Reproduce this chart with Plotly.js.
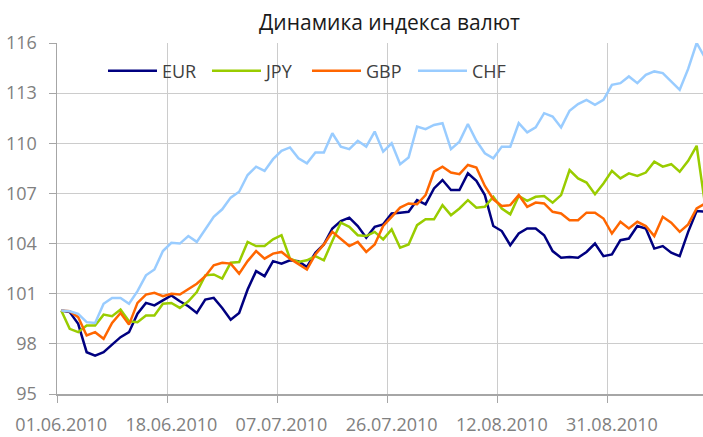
<!DOCTYPE html>
<html>
<head>
<meta charset="utf-8">
<script src="https://cdn.plot.ly/plotly-3.0.1.min.js"></script>
<style>
html, body { margin: 0; padding: 0; overflow: hidden; background: #fff; }
#chart { width: 703px; height: 437px; }
</style>
</head>
<body>
<div id="chart"></div>
<script>
var dates = [
  "01.06.2010","02.06.2010","03.06.2010","04.06.2010","07.06.2010","08.06.2010","09.06.2010","10.06.2010","11.06.2010",
  "14.06.2010","15.06.2010","16.06.2010","17.06.2010","18.06.2010","21.06.2010","22.06.2010","23.06.2010","24.06.2010",
  "25.06.2010","28.06.2010","29.06.2010","30.06.2010",
  "01.07.2010","02.07.2010","05.07.2010","06.07.2010","07.07.2010","08.07.2010","09.07.2010","12.07.2010","13.07.2010",
  "14.07.2010","15.07.2010","16.07.2010","19.07.2010","20.07.2010","21.07.2010","22.07.2010","23.07.2010","26.07.2010",
  "27.07.2010","28.07.2010","29.07.2010","30.07.2010",
  "02.08.2010","03.08.2010","04.08.2010","05.08.2010","06.08.2010","09.08.2010","10.08.2010","11.08.2010","12.08.2010",
  "13.08.2010","16.08.2010","17.08.2010","18.08.2010","19.08.2010","20.08.2010","23.08.2010","24.08.2010","25.08.2010",
  "26.08.2010","27.08.2010","30.08.2010","31.08.2010",
  "01.09.2010","02.09.2010","03.09.2010","06.09.2010","07.09.2010","08.09.2010","09.09.2010","10.09.2010","13.09.2010",
  "14.09.2010","15.09.2010"
];

var eur = [
  100.0, 99.9, 99.2, 97.5, 97.3, 97.5, 97.95, 98.4, 98.7, 99.8,
  100.45, 100.3, 100.6, 100.9, 100.55, 100.25, 99.85, 100.65, 100.75, 100.15,
  99.45, 99.85, 101.25, 102.35, 102.05, 102.95, 102.8, 103.0, 102.95, 102.6,
  103.45, 103.95, 104.9, 105.35, 105.55, 105.05, 104.35, 105.0, 105.15, 105.8,
  105.85, 105.9, 106.6, 106.35, 107.3, 107.8, 107.2, 107.2, 108.2, 107.75,
  106.9, 105.05, 104.75, 103.9, 104.6, 104.9, 104.9, 104.5, 103.55, 103.15,
  103.2, 103.15, 103.5, 104.0, 103.25, 103.35, 104.2, 104.3, 105.05, 104.9,
  103.7, 103.85, 103.45, 103.25, 104.7, 105.95, 105.9
];

var jpy = [
  100.0, 98.9, 98.7, 99.1, 99.1, 99.75, 99.65, 100.05, 99.35, 99.3,
  99.7, 99.7, 100.4, 100.45, 100.15, 100.55, 101.1, 102.1, 102.15, 101.9,
  102.85, 102.9, 104.1, 103.85, 103.85, 104.25, 104.5, 103.1, 102.9, 103.0,
  103.25, 103.0, 104.15, 105.25, 105.0, 104.5, 104.45, 104.7, 104.25, 104.85,
  103.75, 103.95, 105.1, 105.45, 105.45, 106.3, 105.7, 106.1, 106.6, 106.15,
  106.2, 106.8, 106.1, 105.75, 106.85, 106.55, 106.8, 106.85, 106.45, 106.9,
  108.4, 107.9, 107.65, 106.95, 107.6, 108.35, 107.9, 108.2, 108.05, 108.25,
  108.9, 108.6, 108.75, 108.3, 108.95, 109.85, 106.3
];

var gbp = [
  100.0, 99.95, 99.6, 98.5, 98.7, 98.3, 99.25, 99.85, 99.15, 100.45,
  100.95, 101.05, 100.85, 101.0, 100.95, 101.25, 101.6, 102.05, 102.7, 102.85,
  102.8, 102.2, 102.95, 103.55, 103.1, 103.4, 103.5, 103.1, 102.8, 102.45,
  103.35, 103.95, 104.7, 104.25, 103.85, 104.1, 103.5, 103.95, 105.05, 105.6,
  106.15, 106.4, 106.35, 106.9, 108.3, 108.6, 108.25, 108.15, 108.7, 108.55,
  107.45, 106.65, 106.25, 106.3, 106.9, 106.2, 106.45, 106.4, 105.9, 105.8,
  105.4, 105.4, 105.85, 105.85, 105.5, 104.6, 105.3, 104.9, 105.3, 105.05,
  104.45, 105.6, 105.25, 104.7, 105.15, 106.1, 106.4
];

var chf = [
  100.0, 99.95, 99.8, 99.3, 99.25, 100.4, 100.75, 100.75, 100.4, 101.15,
  102.1, 102.45, 103.55, 104.05, 104.0, 104.45, 104.1, 104.85, 105.6, 106.05,
  106.75, 107.1, 108.1, 108.6, 108.35, 109.05, 109.55, 109.75, 109.1, 108.8,
  109.45, 109.45, 110.6, 109.8, 109.65, 110.15, 109.8, 110.7, 109.5, 110.0,
  108.75, 109.15, 111.0, 110.85, 111.1, 111.2, 109.65, 110.1, 111.15, 110.15,
  109.4, 109.1, 109.8, 109.8, 111.2, 110.65, 110.95, 111.8, 111.6, 110.95,
  111.95, 112.35, 112.6, 112.3, 112.6, 113.5, 113.6, 114.0, 113.6, 114.1,
  114.3, 114.2, 113.7, 113.2, 114.45, 116.0, 115.1
];

var seriesNames = ["EUR", "JPY", "GBP", "CHF"];
var seriesColors = ["#000080", "#99CC00", "#FF6600", "#99CCFF"];
var seriesData = [eur, jpy, gbp, chf];
var legendWidths = [40, 36, 42, 40];

var titleText = "Динамика индекса валют";
var yTickStart = 95, yTickStep = 3;

var FONT = "'Open Sans', 'Noto Sans', sans-serif";

var traces = seriesData.map(function (vals, k) {
  return {
    type: "scatter",
    mode: "lines",
    name: seriesNames[k],
    x: dates,
    y: vals,
    line: { color: seriesColors[k], width: 2.5 },
    legendwidth: legendWidths[k],
    hoverinfo: "skip"
  };
});

var layout = {
  width: 703,
  height: 437,
  margin: { l: 57, r: 0, t: 43, b: 43, pad: 0 },
  paper_bgcolor: "#ffffff",
  plot_bgcolor: "#ffffff",
  font: { family: FONT, size: 18, color: "#808080" },
  title: {
    text: titleText,
    font: { family: FONT, size: 21, color: "#1a1a1a" },
    xref: "container", x: 0.554, xanchor: "center",
    yref: "container", y: 0.9485, yanchor: "middle"
  },
  showlegend: true,
  legend: {
    orientation: "h",
    x: 0.0712, xanchor: "left",
    y: 0.92, yanchor: "middle",
    bgcolor: "rgba(0,0,0,0)",
    borderwidth: 0,
    itemwidth: 49,
    font: { family: FONT, size: 18, color: "#404040" }
  },
  xaxis: {
    type: "category",
    range: [-0.5, 75.75],
    tickmode: "linear",
    tick0: 0,
    dtick: 13,
    tickson: "boundaries",
    tickangle: 0,
    ticks: "outside",
    ticklen: 7,
    tickwidth: 1,
    tickcolor: "#a6a6a6",
    showgrid: true,
    gridcolor: "#cccccc",
    gridwidth: 1,
    showline: true,
    linecolor: "#a6a6a6",
    linewidth: 1.5,
    zeroline: false,
    ticklabelstandoff: 14,
    tickfont: { family: FONT, size: 18, color: "#808080" },
    fixedrange: true
  },
  yaxis: {
    range: [95, 116],
    tickmode: "linear",
    tick0: yTickStart,
    dtick: yTickStep,
    ticks: "outside",
    ticklen: 7,
    tickwidth: 1,
    tickcolor: "#a6a6a6",
    showgrid: true,
    gridcolor: "#cccccc",
    gridwidth: 1,
    showline: true,
    linecolor: "#a6a6a6",
    linewidth: 1.5,
    zeroline: false,
    ticklabelstandoff: 8,
    tickfont: { family: FONT, size: 18, color: "#808080" },
    fixedrange: true
  }
};

Plotly.newPlot("chart", traces, layout, { staticPlot: true, displayModeBar: false });
</script>
</body>
</html>
